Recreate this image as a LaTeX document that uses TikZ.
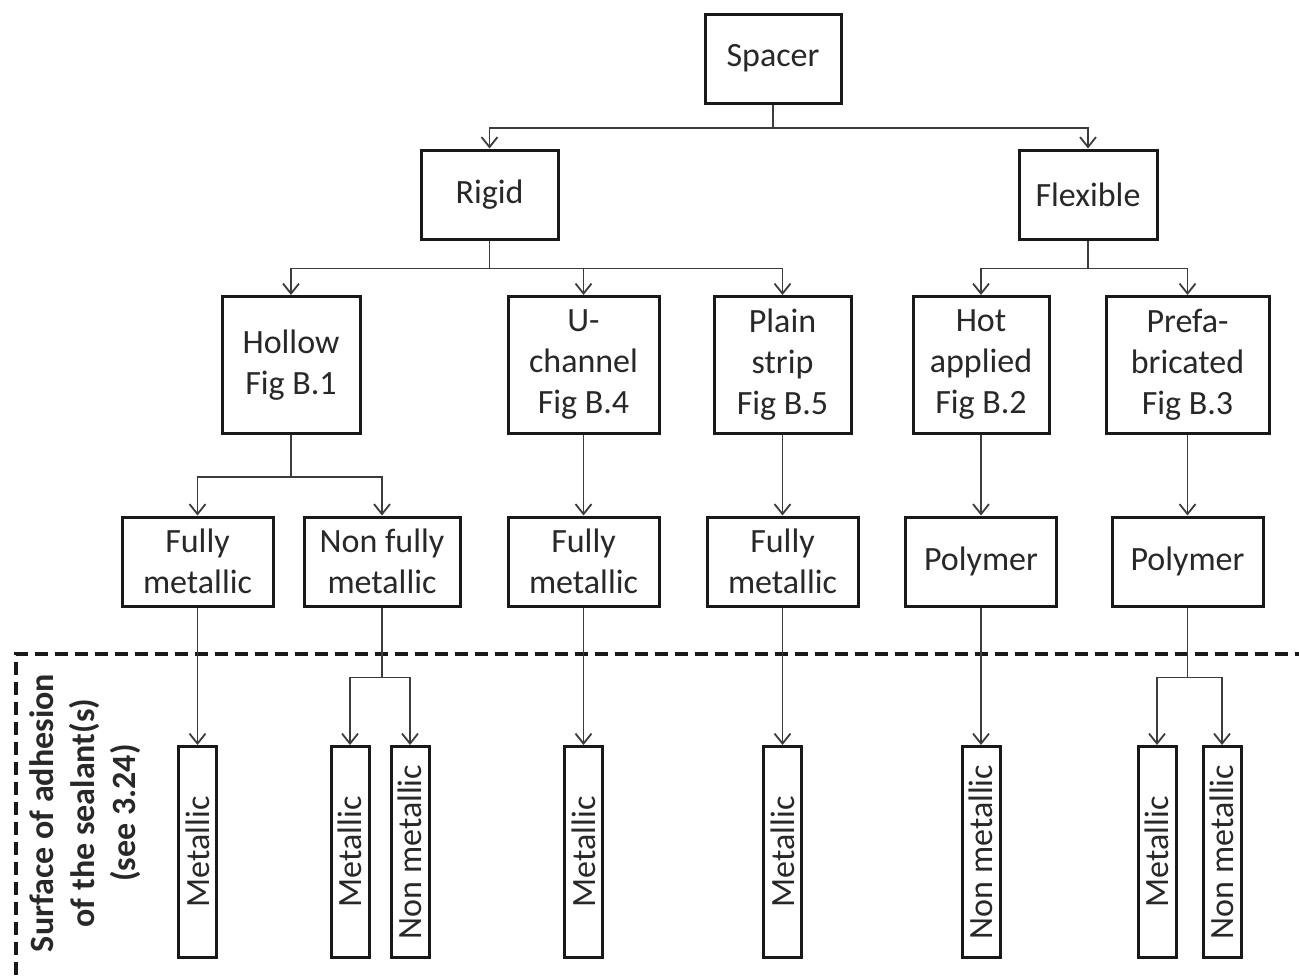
\documentclass[tikz,border=0pt]{standalone}
\usepackage{fontspec}
\setmainfont{Carlito}
\usetikzlibrary{arrows.meta}
\definecolor{txt}{RGB}{40,40,40}
\definecolor{edge}{RGB}{25,25,25}
\definecolor{wire}{RGB}{60,60,60}
\tikzset{
  box/.style={draw=edge, line width=1.5pt, text=txt, align=center, inner sep=0pt,
    font=\fontsize{17}{20.5}\selectfont},
  vbox/.style={box, minimum width=19pt, minimum height=105.5pt},
  conn/.style={draw=wire, line width=0.9pt, -{Straight Barb[length=5pt,width=8pt,line width=0.9pt]}},
  sepline/.style={draw=edge, line width=1.6pt, dash pattern=on 6.5pt off 3.5pt},
}
\begin{document}
\begin{tikzpicture}[x=0.5pt,y=-0.5pt]
\useasboundingbox[fill=white] (0,0) rectangle (1299,975);
% level 0/1
\node[box, minimum width=68pt, minimum height=44.5pt] (spacer) at (773,58.5) {Spacer};
\node[box, minimum width=68.5pt, minimum height=44.5pt] (rigid) at (489.5,194.5) {Rigid};
\node[box, minimum width=69pt, minimum height=44.5pt] (flex) at (1088,194.5) {Flexible};
% level 2
\node[box, minimum width=69pt, minimum height=68.5pt] (hollow) at (291,365) {Hollow\\Fig B.1};
\node[box, minimum width=75.5pt, minimum height=68.5pt] (uch) at (583.5,365) {U-\\channel\\Fig B.4};
\node[box, minimum width=68.5pt, minimum height=68.5pt] (plain) at (782.5,365) {Plain\\strip\\Fig B.5};
\node[box, minimum width=68pt, minimum height=68.5pt] (hot) at (981,365) {Hot\\applied\\Fig B.2};
\node[box, minimum width=81.5pt, minimum height=68.5pt] (prefab) at (1187.5,365) {Prefa-\\bricated\\Fig B.3};
% level 3
\node[box, minimum width=75.5pt, minimum height=44.5pt] (fm1) at (197.5,561.5) {Fully\\metallic};
\node[box, minimum width=78pt, minimum height=44.5pt] (nfm) at (382,561.5) {Non fully\\metallic};
\node[box, minimum width=75.5pt, minimum height=44.5pt] (fm2) at (583.5,561.5) {Fully\\metallic};
\node[box, minimum width=75.5pt, minimum height=44.5pt] (fm3) at (782.5,561.5) {Fully\\metallic};
\node[box, minimum width=75.5pt, minimum height=44.5pt] (poly1) at (981,561.5) {Polymer};
\node[box, minimum width=75.5pt, minimum height=44.5pt] (poly2) at (1187.5,561.5) {Polymer};
% level 4 (surfaces)
\node[vbox] (s1) at (197.5,852) {\rotatebox{90}{Metallic}};
\node[vbox] (s2) at (350,852) {\rotatebox{90}{Metallic}};
\node[vbox] (s3) at (410,852) {\rotatebox{90}{Non metallic}};
\node[vbox] (s4) at (583.5,852) {\rotatebox{90}{Metallic}};
\node[vbox] (s5) at (782.5,852) {\rotatebox{90}{Metallic}};
\node[vbox] (s6) at (981,852) {\rotatebox{90}{Non metallic}};
\node[vbox] (s7) at (1157,852) {\rotatebox{90}{Metallic}};
\node[vbox] (s8) at (1222,852) {\rotatebox{90}{Non metallic}};
% side label
\node[rotate=90, align=center, text=txt, font=\fontsize{17}{20.5}\selectfont\bfseries] (lbl) at (85,813)
  {Surface of adhesion\\of the sealant(s)\\(see 3.24)};
% separator
\coordinate (dA) at (16,975);
\coordinate (dB) at (16,654);
\coordinate (dC) at (1299,654);
\draw[sepline] (dA) -- (dB) -- (dC);
% connectors
\draw[conn] (spacer.south) -- ++(0,23.5) -| (rigid.north);
\draw[conn] (spacer.south) -- ++(0,23.5) -| (flex.north);
\draw[conn] (rigid.south) -- ++(0,28) -| (hollow.north);
\draw[conn] (rigid.south) -- ++(0,28) -| (uch.north);
\draw[conn] (rigid.south) -- ++(0,28) -| (plain.north);
\draw[conn] (flex.south) -- ++(0,28) -| (hot.north);
\draw[conn] (flex.south) -- ++(0,28) -| (prefab.north);
\draw[conn] (hollow.south) -- ++(0,42) -| (fm1.north);
\draw[conn] (hollow.south) -- ++(0,42) -| (nfm.north);
\draw[conn] (uch.south) -- (fm2.north);
\draw[conn] (plain.south) -- (fm3.north);
\draw[conn] (hot.south) -- (poly1.north);
\draw[conn] (prefab.south) -- (poly2.north);
\draw[conn] (fm1.south) -- (s1.north);
\draw[conn] (nfm.south) -- ++(0,70) -| (s2.north);
\draw[conn] (nfm.south) -- ++(0,70) -| (s3.north);
\draw[conn] (fm2.south) -- (s4.north);
\draw[conn] (fm3.south) -- (s5.north);
\draw[conn] (poly1.south) -- (s6.north);
\draw[conn] (poly2.south) -- ++(0,70) -| (s7.north);
\draw[conn] (poly2.south) -- ++(0,70) -| (s8.north);
\end{tikzpicture}
\end{document}
